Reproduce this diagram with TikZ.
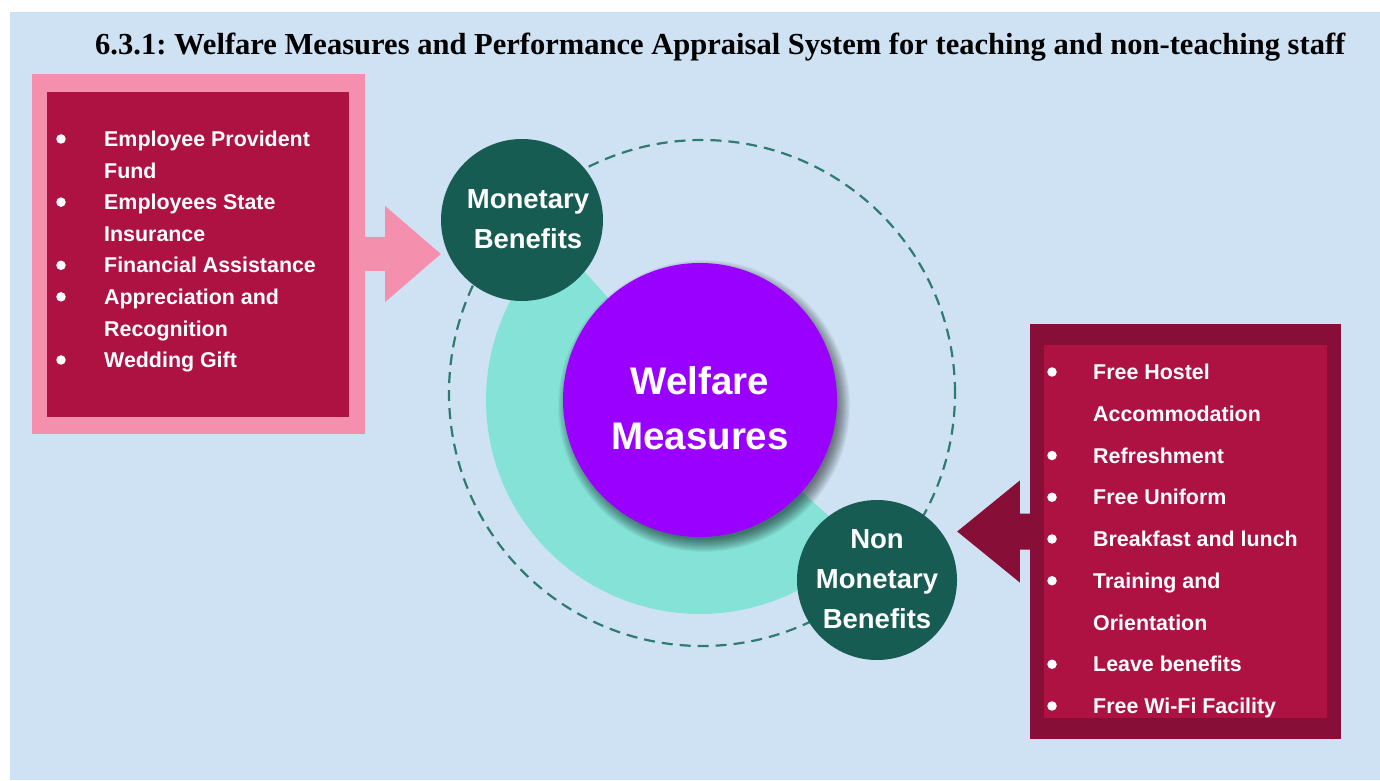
\documentclass[tikz,border=0pt]{standalone}
\usepackage{fontspec}
\usepackage{graphicx}
\setmainfont{Liberation Sans}
\newfontfamily\ttlserif{Liberation Serif}
\usetikzlibrary{calc}
\frenchspacing
\definecolor{bgblue}{HTML}{CFE2F3}
\definecolor{pinkc}{HTML}{F490AE}
\definecolor{crimson}{HTML}{AD1243}
\definecolor{darkcrim}{HTML}{870E37}
\definecolor{dkgreen}{HTML}{175C53}
\definecolor{tealc}{HTML}{84E2D7}
\definecolor{purplec}{HTML}{9900FF}
\definecolor{dashc}{HTML}{2E7B71}
\tikzset{
  itemtext/.style={anchor=base west, inner sep=0, text=white, font=\bfseries\fontsize{21.4}{26}\selectfont},
  bulletdot/.style={circle, fill=white, inner sep=0, minimum size=9.5pt},
  greencirc/.style={circle, fill=dkgreen, inner sep=0, minimum size=162pt},
  circtext/.style={text=white, inner sep=0, align=center, font=\bfseries\fontsize{27.5}{40}\selectfont},
  boxrect/.style={rectangle, inner sep=0},
  dashring/.style={draw=dashc, line width=2.2pt, dash pattern=on 11pt off 7pt},
}
\begin{document}
\begin{tikzpicture}[x=1pt,y=1pt]
\useasboundingbox (0,0) rectangle (1380,780);
\fill[white] (0,0) rectangle (1380,780);
\fill[bgblue] (10,0) rectangle (1380,768);

% title
\node[anchor=base west, inner sep=0] (title) at (95,725.5)
  {\resizebox{1250pt}{!}{\ttlserif\bfseries 6.3.1: Welfare Measures and Performance Appraisal System for teaching and non-teaching staff}};

% central ring
\coordinate (wc) at (700,380);
\fill[tealc] ($(wc)+(132:214)$) arc[start angle=132, end angle=318, radius=214]
  -- ($(wc)+(318:120)$) arc[start angle=318, end angle=132, radius=120] -- cycle;
\draw[dashring] (702,387) circle[radius=253];

% shadow of the central circle
\foreach \k in {0,...,13}
  \fill[black, opacity=0.045] ($(wc)+(4,-6)$) circle[radius=133+\k];

\node[circle, fill=purplec, inner sep=0, minimum size=274pt] (wel) at (wc) {};
\node[circtext, font=\bfseries\fontsize{38.5}{55}\selectfont] (weltxt) at (700,372) {Welfare\\Measures};

\node[greencirc] (mon) at (522,560) {};
\node[circtext] (montxt) at (528,561) {Monetary\\Benefits};
\node[greencirc, minimum size=160pt] (nonmon) at (877,200) {};
\node[circtext] (nonmontxt) at (877,201) {Non\\Monetary\\Benefits};

% left box
\node[boxrect, fill=pinkc, minimum width=333pt, minimum height=360pt] (lbox) at (198.5,526) {};
\node[boxrect, fill=crimson, minimum width=302pt, minimum height=325pt] (lin) at (198,525.5) {};
\fill[pinkc] ($(lbox.east)+(0,17)$) -- ++(20,0) -- ++(0,31) -- (mon.west |- lbox.east)
  -- ($(lbox.east)+(20,-48)$) -- ++(0,31) -- ($(lbox.east)+(0,-17)$) -- cycle;

% right box
\node[boxrect, fill=darkcrim, minimum width=311pt, minimum height=415pt] (rbox) at (1185.5,248.5) {};
\node[boxrect, fill=crimson, minimum width=283pt, minimum height=373pt] (rin) at (1185.5,248.5) {};
\fill[darkcrim] ($(rbox.west)+(0,18)$) -- ++(-10,0) -- ++(0,33) -- (nonmon.east |- rbox.west)
  -- ($(rbox.west)+(-10,-51)$) -- ++(0,33) -- ($(rbox.west)+(0,-18)$) -- cycle;

% left list
\foreach \b/\t [count=\i] in {1/Employee Provident, 0/Fund, 1/Employees State, 0/Insurance,
    1/Financial Assistance, 1/Appreciation and, 0/Recognition, 1/Wedding Gift} {
  \pgfmathsetmacro{\yy}{633.3-(\i-1)*31.57}
  \node[itemtext] (L\i) at (104,\yy) {\t};
  \ifnum\b=1 \node[bulletdot] (LB\i) at (61,\yy+7.7) {}; \fi
}

% right list
\foreach \b/\t [count=\i] in {1/Free Hostel, 0/Accommodation, 1/Refreshment, 1/Free Uniform,
    1/Breakfast and lunch, 1/Training and, 0/Orientation, 1/Leave benefits, 1/Free Wi-Fi Facility} {
  \pgfmathsetmacro{\yy}{400.3-(\i-1)*41.75}
  \node[itemtext] (R\i) at (1093,\yy) {\t};
  \ifnum\b=1 \node[bulletdot] (RB\i) at (1052,\yy+7.7) {}; \fi
}
\end{tikzpicture}
\end{document}
